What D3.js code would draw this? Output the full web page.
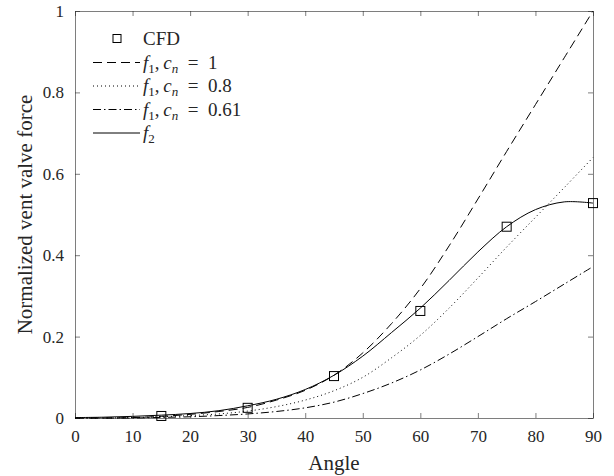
<!DOCTYPE html>
<html>
<head>
<meta charset="utf-8">
<script src="https://cdn.jsdelivr.net/npm/d3@7"></script>
<style>
  body { margin: 0; background: #fff; }
  text { font-family: "Liberation Serif", "DejaVu Serif", serif; fill: #262626; }
</style>
</head>
<body>
<script>
const width = 614
const height = 476
const margin = {left: 75, right: 21, top: 11, bottom: 58}

// angles sampled every 5 degrees
const angles = [0, 5, 10, 15, 20, 25, 30, 35, 40, 45, 50, 55, 60, 65, 70, 75, 80, 85, 90]
const f1c1 = [0, 0, 0.001, 0.004, 0.009, 0.016, 0.026, 0.044, 0.068, 0.105, 0.16, 0.232, 0.318, 0.423, 0.538, 0.655, 0.77, 0.885, 1.0]
const f1c08 = [0, 0, 0.001, 0.003, 0.006, 0.010, 0.017, 0.028, 0.044, 0.067, 0.10, 0.148, 0.203, 0.27, 0.344, 0.42, 0.493, 0.566, 0.64]
const f1c061 = [0, 0, 0, 0.0015, 0.003, 0.006, 0.010, 0.016, 0.025, 0.039, 0.06, 0.086, 0.118, 0.157, 0.2, 0.244, 0.286, 0.329, 0.372]
const f2 = [0.001, 0.002, 0.004, 0.007, 0.011, 0.018, 0.03, 0.046, 0.07, 0.105, 0.152, 0.21, 0.27, 0.338, 0.408, 0.47, 0.512, 0.531, 0.528]

const cfdAngle = [15, 30, 45, 60, 75, 90]
const cfdForce = [0.005, 0.025, 0.103, 0.263, 0.470, 0.528]

const xTicks = [0, 10, 20, 30, 40, 50, 60, 70, 80, 90]
const yTicks = [0, 0.2, 0.4, 0.6, 0.8, 1]

const svg = d3.select("body").append("svg")
    .attr("width", width)
    .attr("height", height)

const x = d3.scaleLinear().domain([0, 90]).range([margin.left, width - margin.right])
const y = d3.scaleLinear().domain([0, 1]).range([height - margin.bottom, margin.top])

const axisColor = "#262626"
const tickLen = 5

// axes with inward ticks on all four sides
svg.append("g")
    .attr("transform", `translate(0,${y(0)})`)
    .call(d3.axisBottom(x).tickValues(xTicks).tickSizeInner(-tickLen).tickSizeOuter(0).tickPadding(12).tickFormat(d3.format("d")))
svg.append("g")
    .attr("transform", `translate(0,${y(1)})`)
    .call(d3.axisTop(x).tickValues(xTicks).tickSizeInner(-tickLen).tickSizeOuter(0).tickFormat(""))
svg.append("g")
    .attr("transform", `translate(${x(0)},0)`)
    .call(d3.axisLeft(y).tickValues(yTicks).tickSizeInner(-tickLen).tickSizeOuter(0).tickPadding(11).tickFormat(d => d === 0 || d === 1 ? d3.format("d")(d) : d3.format(".1f")(d)))
svg.append("g")
    .attr("transform", `translate(${x(90)},0)`)
    .call(d3.axisRight(y).tickValues(yTicks).tickSizeInner(-tickLen).tickSizeOuter(0).tickFormat(""))

svg.selectAll(".domain").attr("stroke", axisColor).attr("stroke-width", 0.6)
svg.selectAll(".tick line").attr("stroke", axisColor).attr("stroke-width", 0.6)
svg.selectAll(".tick text")
    .style("font-family", "'Liberation Serif', serif")
    .style("font-size", "17px")
    .attr("fill", axisColor)

// axis labels
svg.append("text")
    .attr("x", (x(0) + x(90))/2)
    .attr("y", height - 6)
    .attr("text-anchor", "middle")
    .style("font-size", "21px")
    .text("Angle")

svg.append("text")
    .attr("transform", `translate(32,${(y(0) + y(1))/2}) rotate(-90)`)
    .attr("text-anchor", "middle")
    .style("font-size", "21px")
    .text("Normalized vent valve force")

// curves
const series = [
    {vals: f1c1, dash: "9,5"},
    {vals: f1c08, dash: "1,3"},
    {vals: f1c061, dash: "8,3,1.5,3"},
    {vals: f2, dash: null}
]

const line = d3.line()
    .x(d => x(d[0]))
    .y(d => y(d[1]))
    .curve(d3.curveCatmullRom.alpha(0.5))

svg.selectAll(".curve")
    .data(series)
    .enter()
    .append("path")
    .attr("class", "curve")
    .attr("d", d => line(angles.map((a, i) => [a, d.vals[i]])))
    .attr("fill", "none")
    .attr("stroke", "black")
    .attr("stroke-width", 1)
    .attr("stroke-dasharray", d => d.dash)

// CFD markers
const mk = 9
svg.selectAll(".cfd")
    .data(cfdAngle)
    .enter()
    .append("rect")
    .attr("x", (d, i) => x(d) - mk/2)
    .attr("y", (d, i) => y(cfdForce[i]) - mk/2)
    .attr("width", mk)
    .attr("height", mk)
    .attr("fill", "none")
    .attr("stroke", "black")
    .attr("stroke-width", 1)

// legend
const legendRows = [
    {type: "marker", label: [["CFD", "normal", null]]},
    {type: "line", dash: "9,5", label: [["f", "italic", null], ["1", "normal", "sub"], [",\u2009", "normal", null], ["c", "italic", null], ["n", "italic", "sub"], ["\u2002=\u20021", "normal", null]]},
    {type: "line", dash: "1,3", label: [["f", "italic", null], ["1", "normal", "sub"], [",\u2009", "normal", null], ["c", "italic", null], ["n", "italic", "sub"], ["\u2002=\u20020.8", "normal", null]]},
    {type: "line", dash: "8,3,1.5,3", label: [["f", "italic", null], ["1", "normal", "sub"], [",\u2009", "normal", null], ["c", "italic", null], ["n", "italic", "sub"], ["\u2002=\u20020.61", "normal", null]]},
    {type: "line", dash: null, label: [["f", "italic", null], ["2", "normal", "sub"]]}
]

const lx0 = 93
const lx1 = 140
const ly0 = 39
const lstep = 23.5

const legend = svg.append("g")

legendRows.forEach((row, i) => {
    const yy = ly0 + i*lstep
    if(row.type === "marker"){
        legend.append("rect")
            .attr("x", (lx0 + lx1)/2 - mk/2 + 1)
            .attr("y", yy - mk/2)
            .attr("width", mk - 1)
            .attr("height", mk - 1)
            .attr("fill", "none")
            .attr("stroke", "black")
            .attr("stroke-width", 1)
    } else {
        legend.append("line")
            .attr("x1", lx0)
            .attr("x2", lx1)
            .attr("y1", yy)
            .attr("y2", yy)
            .attr("stroke", "black")
            .attr("stroke-width", 1)
            .attr("stroke-dasharray", row.dash)
    }
    const t = legend.append("text")
        .attr("x", lx1 + 3)
        .attr("y", yy + 6)
        .style("font-size", "19px")
        .attr("fill", "black")
    row.label.forEach((part, j) => {
        const ts = t.append("tspan")
            .style("font-style", part[1])
            .text(part[0])
        if(part[2] === "sub"){
            ts.attr("dy", 4).style("font-size", "13px")
        } else if(j > 0 && row.label[j-1][2] === "sub"){
            ts.attr("dy", -4)
        }
    })
})
</script>
</body>
</html>
